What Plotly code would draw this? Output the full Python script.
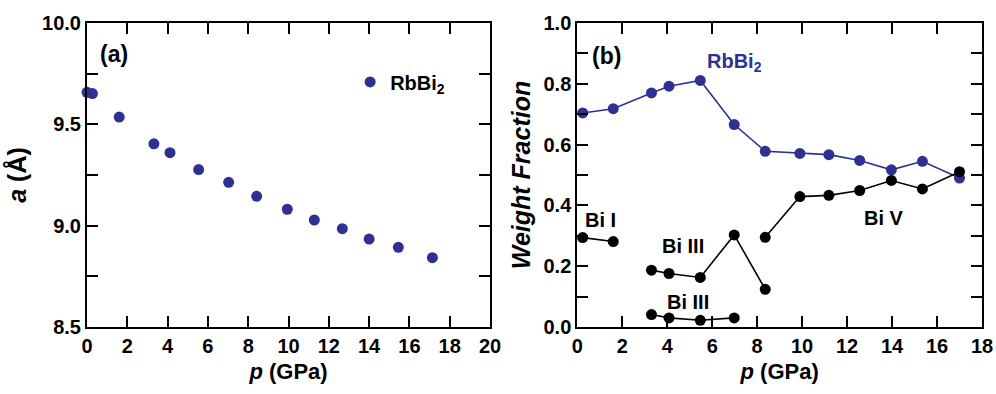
import plotly.graph_objects as go

# Panel (a): lattice parameter a vs pressure
p_a = [0.0, 0.27, 1.6, 3.32, 4.12, 5.54, 7.03, 8.42, 9.94, 11.28, 12.67, 14.0, 15.45, 17.14]
a_vals = [9.658, 9.652, 9.536, 9.404, 9.360, 9.277, 9.214, 9.145, 9.081, 9.028, 8.985, 8.934, 8.893, 8.842]

# Panel (b): weight fractions
p_rb = [0.24, 1.6, 3.3, 4.08, 5.47, 6.98, 8.36, 9.9, 11.19, 12.56, 13.97, 15.35, 17.0]
wf_rb = [0.704, 0.718, 0.770, 0.792, 0.811, 0.666, 0.578, 0.571, 0.567, 0.548, 0.517, 0.545, 0.490]

p_bi1 = [0.24, 1.6]
wf_bi1 = [0.294, 0.281]

p_bi3a = [3.3, 4.08, 5.47, 6.98, 8.36]
wf_bi3a = [0.187, 0.176, 0.163, 0.303, 0.124]

p_bi3b = [3.3, 4.08, 5.47, 6.98]
wf_bi3b = [0.041, 0.030, 0.022, 0.030]

p_bi5 = [8.36, 9.9, 11.19, 12.56, 13.97, 15.35, 17.0]
wf_bi5 = [0.295, 0.429, 0.433, 0.449, 0.482, 0.454, 0.511]

BLUE = "#2E3192"
BLACK = "#000000"
FONT = "Liberation Sans, Arial, sans-serif"

fig = go.Figure()

fig.add_trace(go.Scatter(x=p_a, y=a_vals, mode="markers", name="RbBi<sub>2</sub>",
                         marker=dict(color=BLUE, size=11), cliponaxis=False,
                         xaxis="x", yaxis="y", showlegend=True))

fig.add_trace(go.Scatter(x=p_rb, y=wf_rb, mode="lines+markers",
                         line=dict(color=BLUE, width=1.6), marker=dict(color=BLUE, size=11),
                         cliponaxis=False, xaxis="x2", yaxis="y2", showlegend=False))
for xs, ys in [(p_bi1, wf_bi1), (p_bi3a, wf_bi3a), (p_bi3b, wf_bi3b), (p_bi5, wf_bi5)]:
    fig.add_trace(go.Scatter(x=xs, y=ys, mode="lines+markers",
                             line=dict(color=BLACK, width=1.6), marker=dict(color=BLACK, size=11),
                             cliponaxis=False, xaxis="x2", yaxis="y2", showlegend=False))

title_font = dict(family=FONT, size=22, color="black", weight="bold")
ytitle_font = dict(family=FONT, size=25, color="black", weight="bold")
tick_font = dict(family=FONT, size=20, color="black", weight="bold")

common = dict(showline=True, linewidth=2, linecolor="black", mirror="ticks",
              ticks="inside", ticklen=11, tickwidth=2, tickcolor="black",
              showgrid=False, zeroline=False, automargin=False,
              layer="above traces", tickfont=tick_font)

fig.update_layout(
    width=996, height=394,
    margin=dict(l=87, r=14, t=23, b=67),
    paper_bgcolor="white", plot_bgcolor="white",
    font=dict(family=FONT, size=20, color="black", weight="bold"),
    xaxis=dict(domain=[0, 0.4503], range=[0, 20], tickmode="linear", tick0=0, dtick=2,
               title=dict(text="<i>p</i> (GPa)", font=title_font, standoff=8), **common),
    yaxis=dict(range=[8.5, 10.0], tickmode="linear", tick0=8.5, dtick=0.5, tickformat=".1f",
               minor=dict(dtick=0.25, ticklen=11, tickwidth=2, tickcolor="black", ticks="inside"),
               title=dict(text="<i>a</i> (Å)", font=ytitle_font, standoff=8), **common),
    xaxis2=dict(domain=[0.5478, 1], range=[0, 18], tickmode="linear", tick0=0, dtick=2,
                anchor="y2",
                title=dict(text="<i>p</i> (GPa)", font=title_font, standoff=8), **common),
    yaxis2=dict(range=[0, 1.0], tickmode="linear", tick0=0, dtick=0.2, tickformat=".1f",
                anchor="x2",
                minor=dict(dtick=0.1, ticklen=11, tickwidth=2, tickcolor="black", ticks="inside"),
                title=dict(text="<i>Weight Fraction</i>", font=ytitle_font, standoff=6), **common),
    legend=dict(x=0.294, y=0.806, xref="paper", yref="paper", xanchor="left", yanchor="middle",
                bgcolor="rgba(0,0,0,0)", font=dict(family=FONT, size=20, color="black", weight="bold")),
    showlegend=True,
)

ann_font = dict(family=FONT, size=20, color="black", weight="bold")
annotations = [
    dict(x=1.32, y=9.847, xref="x", yref="y", text="(a)", showarrow=False,
         font=dict(family=FONT, size=23, color="black", weight="bold")),
    dict(x=1.32, y=0.89, xref="x2", yref="y2", text="(b)", showarrow=False,
         font=dict(family=FONT, size=23, color="black", weight="bold")),
    dict(x=7.0, y=0.87, xref="x2", yref="y2", text="RbBi<sub>2</sub>", showarrow=False,
         font=dict(family=FONT, size=20, color=BLUE, weight="bold")),
    dict(x=1.05, y=0.352, xref="x2", yref="y2", text="Bi I", showarrow=False, font=ann_font),
    dict(x=4.70, y=0.266, xref="x2", yref="y2", text="Bi III", showarrow=False, font=ann_font),
    dict(x=4.92, y=0.082, xref="x2", yref="y2", text="Bi III", showarrow=False, font=ann_font),
    dict(x=13.63, y=0.359, xref="x2", yref="y2", text="Bi V", showarrow=False, font=ann_font),
]
fig.update_layout(annotations=annotations)

fig.write_html("out.html")
